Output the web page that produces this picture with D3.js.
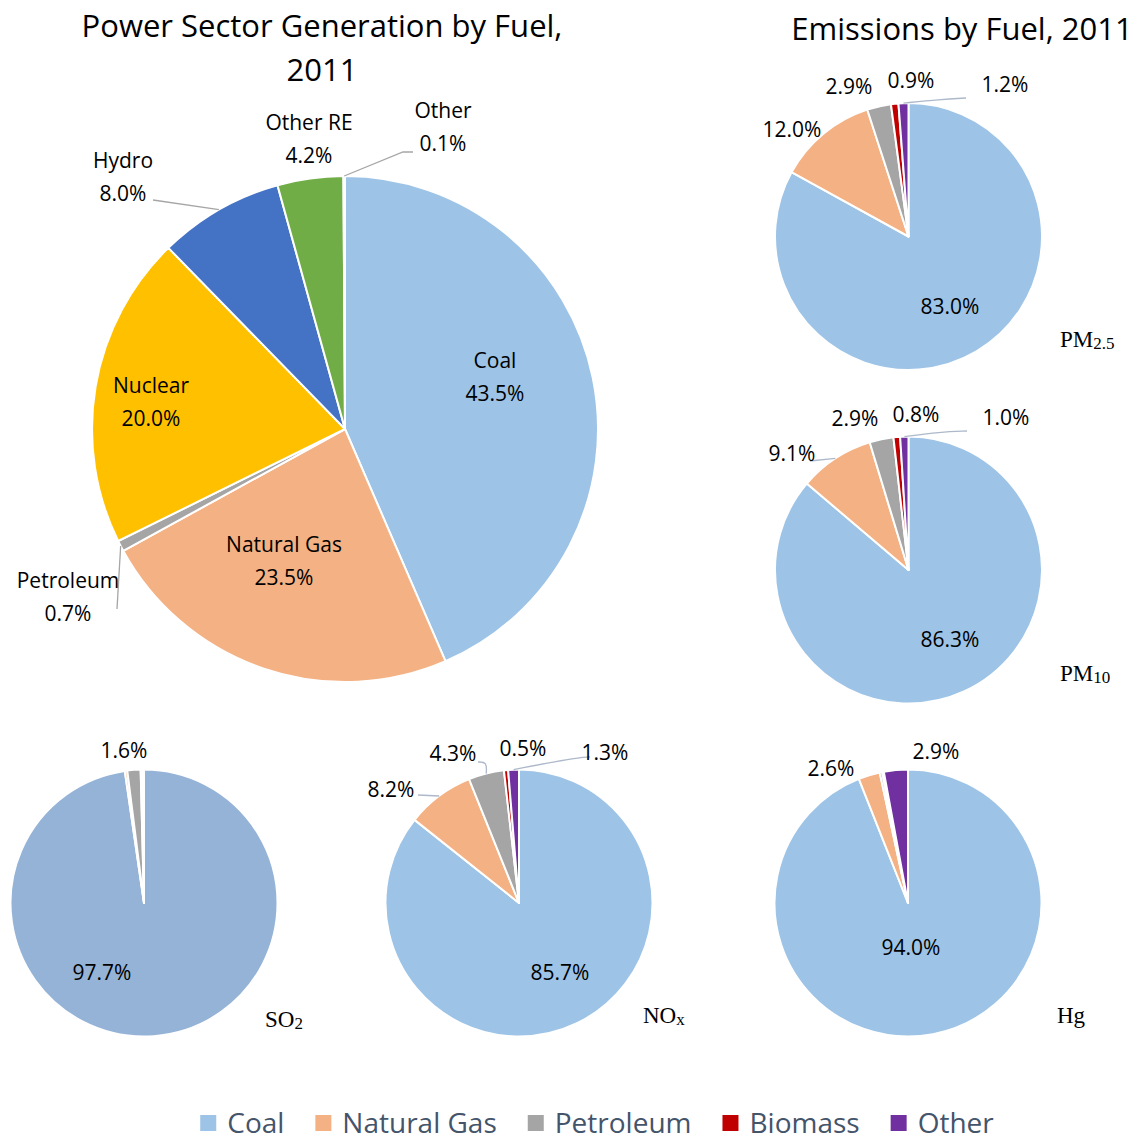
<!DOCTYPE html>
<meta charset="utf-8">
<title>Power Sector Generation and Emissions by Fuel, 2011</title>
<style>
body { margin: 0; background: #fff; }
svg { font-family: "Open Sans", Lato, sans-serif; }
.lbl { font-size: 21px; fill: #000; text-anchor: middle; }
.serif { font-family: "Liberation Serif", "DejaVu Serif", serif; font-size: 23px; fill: #000; }
.title { font-size: 31px; fill: #000; text-anchor: middle; }
.leader { fill: none; stroke-width: 1.3px; }
.legend text { font-size: 28px; fill: #44546A; }
</style>
<svg width="1144" height="1142"></svg>
<script src="https://d3js.org/d3.v7.min.js"></script>
<script>

// ---- data ----
var genFuels  = ["Coal", "Natural Gas", "Petroleum", "Nuclear", "Hydro", "Other RE", "Other"];
var genShares = [43.5, 23.5, 0.7, 20.0, 8.0, 4.2, 0.1];

var emFuels = ["Coal", "Natural Gas", "Petroleum", "Biomass", "Other"];
var pm25 = [83.0, 12.0, 2.9, 0.9, 1.2];
var pm10 = [86.3, 9.1, 2.9, 0.8, 1.0];
var so2  = [97.7, 0.3, 1.6, 0.2, 0.2];
var nox  = [85.7, 8.2, 4.3, 0.5, 1.3];
var hg   = [94.0, 2.6, 0.3, 0.2, 2.9];

var genColors = ["#9DC3E6", "#F4B183", "#A5A5A5", "#FFC000", "#4472C4", "#70AD47", "#255E91"];
var emColors  = ["#9DC3E6", "#F4B183", "#A5A5A5", "#C00000", "#7030A0"];

var svg = d3.select("svg");

// ---- layout of each pie (label offsets are relative to the pie centre) ----
var pies = [
  { values: genShares, names: genFuels, colors: genColors, cx: 345, cy: 429, r: 253, lineColor: "#A6A6A6",
    labels: [
      {i: 0, dx: 150, dy: -52, name: true},
      {i: 1, dx: -61, dy: 132, name: true},
      {i: 2, dx: -277, dy: 168, name: true, leader: [[-228, 180]]},
      {i: 3, dx: -194, dy: -27, name: true},
      {i: 4, dx: -222, dy: -252, name: true, leader: [[-192, -229]]},
      {i: 5, dx: -36, dy: -290, name: true},
      {i: 6, dx: 98, dy: -302, name: true, leader: [[58, -277], [68, -277]]}
    ]},
  { values: pm25, colors: emColors, cx: 908.5, cy: 236.5, r: 133.5, lineColor: "#ADB9CA",
    tag: ["PM", "2.5"], tx: 1060, ty: 347,
    labels: [
      {i: 0, dx: 41.5, dy: 69.5},
      {i: 1, dx: -116.5, dy: -107.5},
      {i: 2, dx: -59.5, dy: -150.5},
      {i: 3, dx: 2.5, dy: -156.5},
      {i: 4, dx: 96.5, dy: -152.5, leader: [[31.5, -137], [57.5, -138.5]]}
    ]},
  { values: pm10, colors: emColors, cx: 908.5, cy: 570, r: 133.5, lineColor: "#ADB9CA",
    tag: ["PM", "10"], tx: 1060, ty: 681,
    labels: [
      {i: 0, dx: 41.5, dy: 69},
      {i: 1, dx: -116.5, dy: -117, leader: [[-98.5, -109]]},
      {i: 2, dx: -53.5, dy: -152},
      {i: 3, dx: 7.5, dy: -156},
      {i: 4, dx: 97.5, dy: -153, leader: [[31.5, -138], [58.5, -139]]}
    ]},
  { values: so2, colors: ["#95B3D7", "#F4B183", "#A5A5A5", "#C00000", "#4BACC6"], cx: 144, cy: 903, r: 133.5, lineColor: "#ADB9CA",
    tag: ["SO", "2"], tx: 265, ty: 1027,
    labels: [
      {i: 0, dx: -42, dy: 69},
      {i: 2, dx: -20, dy: -153}
    ]},
  { values: nox, colors: emColors, cx: 519, cy: 903, r: 133.5, lineColor: "#ADB9CA",
    tag: ["NO", "x"], tx: 643, ty: 1023,
    labels: [
      {i: 0, dx: 41, dy: 69},
      {i: 1, dx: -128, dy: -114, leader: [[-101, -108]]},
      {i: 2, dx: -66, dy: -150, leader: [[-32, -141], [-41, -141]]},
      {i: 3, dx: 4, dy: -155},
      {i: 4, dx: 86, dy: -151, leader: [[54, -145], [71, -146]]}
    ]},
  { values: hg, colors: emColors, cx: 908, cy: 903, r: 133.5, lineColor: "#ADB9CA",
    tag: ["Hg", ""], tx: 1057, ty: 1023,
    labels: [
      {i: 0, dx: 3, dy: 44},
      {i: 1, dx: -77, dy: -135},
      {i: 4, dx: 28, dy: -152}
    ]}
];

var pie = d3.pie().sort(null).value(function(d) { return d; });

pies.forEach(function(p) {
  var arcs = pie(p.values);
  var arc = d3.arc().innerRadius(0).outerRadius(p.r);
  var g = svg.append("g").attr("transform", "translate(" + p.cx + "," + p.cy + ")");

  g.selectAll("path.slice")
    .data(arcs)
    .enter().append("path")
      .attr("class", "slice")
      .attr("d", arc)
      .attr("fill", function(d, i) { return p.colors[i]; })
      .attr("stroke", "#fff")
      .attr("stroke-width", 2)
      .attr("stroke-linejoin", "round");

  // leader lines: start on the rim at the slice's mid angle
  p.labels.forEach(function(l) {
    if (!l.leader) return;
    var a = arcs[l.i];
    var mid = (a.startAngle + a.endAngle) / 2;
    var pts = [[Math.sin(mid) * p.r, -Math.cos(mid) * p.r]].concat(l.leader);
    g.append("path")
      .attr("class", "leader")
      .attr("stroke", p.lineColor)
      .attr("d", d3.line().curve(pts.length > 2 && !p.names ? d3.curveBasis : d3.curveLinear)(pts));
  });

  p.labels.forEach(function(l) {
    var pct = d3.format(".1f")(p.values[l.i]) + "%";
    if (l.name) {
      var t = g.append("text").attr("class", "lbl");
      t.append("tspan").attr("x", l.dx).attr("y", l.dy - 9).text(p.names[l.i]);
      t.append("tspan").attr("x", l.dx).attr("y", l.dy + 24).text(pct);
    } else {
      g.append("text").attr("class", "lbl")
        .attr("x", l.dx).attr("y", l.dy + 8)
        .text(pct);
    }
  });

  if (p.tag) {
    var tt = svg.append("text").attr("class", "serif").attr("x", p.tx).attr("y", p.ty);
    tt.append("tspan").text(p.tag[0]);
    if (p.tag[1]) tt.append("tspan").attr("font-size", 17).attr("dy", 2).text(p.tag[1]);
  }
});

// ---- titles ----
svg.append("text").attr("class", "title").attr("x", 322).attr("y", 37).text("Power Sector Generation by Fuel,");
svg.append("text").attr("class", "title").attr("x", 322).attr("y", 81).text("2011");
svg.append("text").attr("class", "title").attr("x", 962).attr("y", 40).text("Emissions by Fuel, 2011");

// ---- legend ----
var legend = svg.append("g").attr("class", "legend");
var x = 0;
emFuels.forEach(function(f, i) {
  var item = legend.append("g").attr("transform", "translate(" + x + ",0)");
  item.append("rect").attr("x", 0).attr("y", -8).attr("width", 16).attr("height", 16)
    .attr("fill", emColors[i]);
  var t = item.append("text").attr("x", 27).attr("y", 10).text(f);
  x += 27 + t.node().getComputedTextLength() + 31;
});
var legendWidth = x - 31;
legend.attr("transform", "translate(" + (597 - legendWidth / 2) + ",1123)");

</script>
